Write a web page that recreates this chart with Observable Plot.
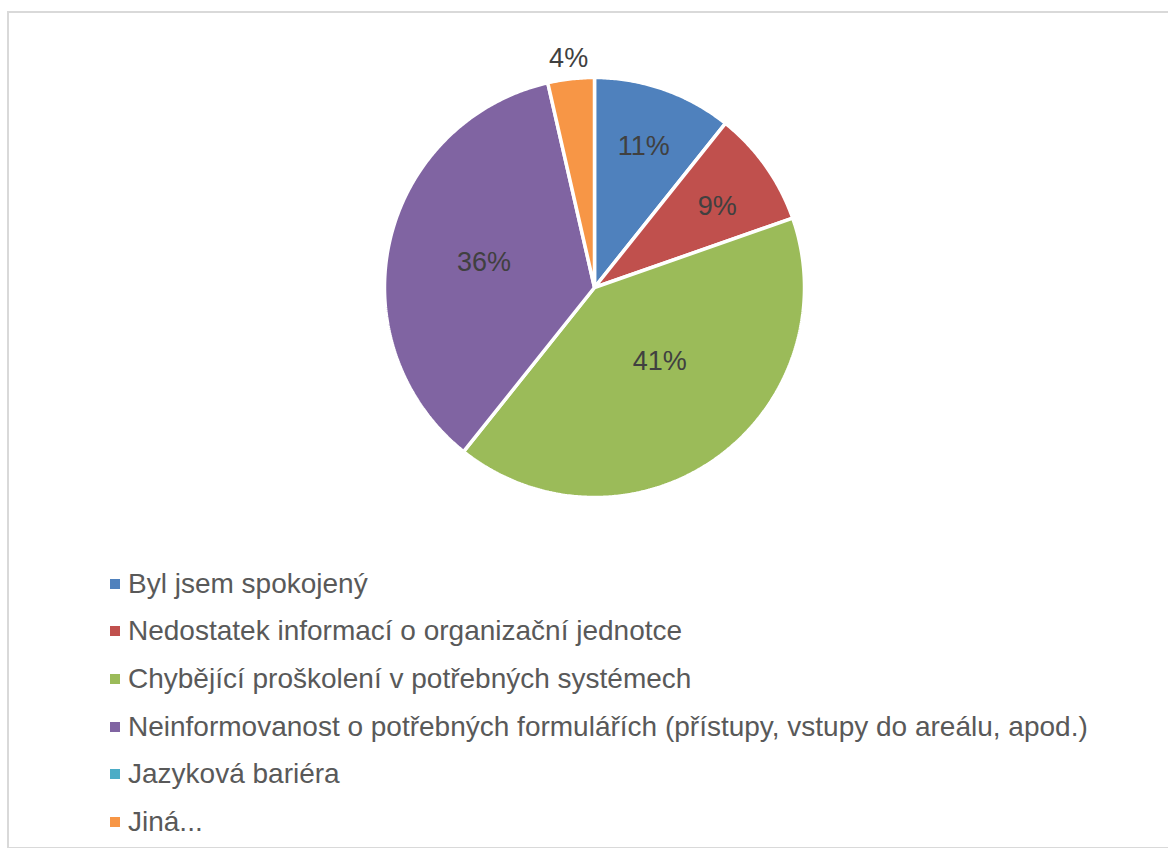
<!DOCTYPE html>
<html><head><meta charset="utf-8">
<script src="https://cdn.jsdelivr.net/npm/d3@7"></script>
<script src="https://cdn.jsdelivr.net/npm/@observablehq/plot@0.6"></script>
<style>
body{margin:0;background:#fff;font-family:"Liberation Sans",Arial,sans-serif;}
#frame{position:absolute;left:7px;top:11px;width:1300px;height:834px;border:2px solid #d9d9d9;}
#chart{position:absolute;left:0;top:0;}
#legend{position:absolute;left:110px;top:560px;}
.item{display:flex;align-items:center;height:47.6px;font-size:28px;color:#595959;white-space:nowrap;}
.sw{width:10px;height:10px;margin-right:8px;flex:none;}
</style></head><body>
<div id="frame"></div><div id="chart"></div><div id="legend"></div>
<script>
const categories = [
  "Byl jsem spokojený",
  "Nedostatek informací o organizační jednotce",
  "Chybějící proškolení v potřebných systémech",
  "Neinformovanost o potřebných formulářích (přístupy, vstupy do areálu, apod.)",
  "Jazyková bariéra",
  "Jiná..."
];
const counts = [6, 5, 23, 20, 0, 2];
const colors = ["#4F81BD", "#C0504D", "#9BBB59", "#8064A2", "#4BACC6", "#F79646"];

// layout (not data)
const labelRadius = [0.71, 0.70, 0.47, 0.54, 0.7, 1.10];
const labelShiftDeg = [0, 2, -6, 0, 0, 0];

const total = d3.sum(counts);
const slicePts = [];
const labels = [];
let cum = 0;
counts.forEach((v, i) => {
  const a0 = cum / total * 2 * Math.PI;
  cum += v;
  const a1 = cum / total * 2 * Math.PI;
  if (v <= 0) return;
  const cat = categories[i];
  slicePts.push({cat, x: 0, y: 0});
  const n = Math.max(2, Math.ceil((a1 - a0) / (Math.PI / 360)));
  for (let k = 0; k <= n; k++) {
    const a = a0 + (a1 - a0) * k / n;
    slicePts.push({cat, x: Math.sin(a), y: Math.cos(a)});
  }
  slicePts.push({cat, x: 0, y: 0});
  const am = (a0 + a1) / 2 + labelShiftDeg[i] * Math.PI / 180;
  labels.push({cat, x: labelRadius[i] * Math.sin(am), y: labelRadius[i] * Math.cos(am),
    text: Math.round(v / total * 100) + "%"});
});

const W = 1168, H = 540, R = 210, cx = 594, cy = 287;
const plot = Plot.plot({
  width: W, height: H,
  marginLeft: 0, marginRight: 0, marginTop: 0, marginBottom: 0,
  x: {domain: [-cx / R, (W - cx) / R], axis: null},
  y: {domain: [-(H - cy) / R, cy / R], axis: null},
  color: {domain: categories, range: colors},
  style: {background: "transparent", fontFamily: "Liberation Sans, Arial, sans-serif"},
  marks: [
    Plot.line(slicePts, {x: "x", y: "y", z: "cat", fill: "cat", stroke: "white", strokeWidth: 3.5, strokeLinejoin: "miter", curve: "linear"}),
    Plot.text(labels, {x: "x", y: "y", text: "text", fill: "#404040", fontSize: 27})
  ]
});
document.getElementById("chart").appendChild(plot);

const leg = d3.select("#legend");
categories.forEach((c, i) => {
  const it = leg.append("div").attr("class", "item");
  it.append("div").attr("class", "sw").style("background", colors[i]);
  it.append("span").text(c);
});
</script>
</body></html>
